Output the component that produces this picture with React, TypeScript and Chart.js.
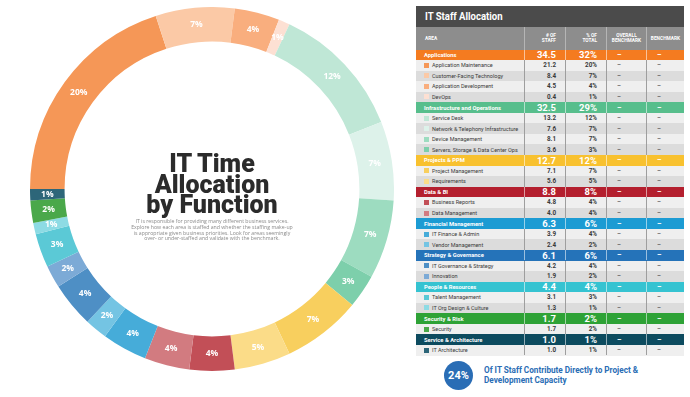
import React, { useEffect, useRef } from 'react';
import { Chart, registerables } from 'chart.js';
Chart.register(...registerables);

// ---- data ----
const areas = [
  'Applications',
  'Infrastructure and Operations',
  'Projects & PPM',
  'Data & BI',
  'Financial Management',
  'Strategy & Governance',
  'People & Resources',
  'Security & Risk',
  'Service & Architecture',
];
const areaStaff = [34.5, 32.5, 12.7, 8.8, 6.3, 6.1, 4.4, 1.7, 1.0];
const areaPct = [32, 29, 12, 8, 6, 6, 4, 2, 1];
const areaColors = ['#f47b20', '#57be8c', '#f8c12f', '#b41f2e', '#1c9bd3', '#2573b9', '#35c3d1', '#2ea236', '#0d4b5f'];

const functions = [
  'Application Maintenance',
  'Customer-Facing Technology',
  'Application Development',
  'DevOps',
  'Service Desk',
  'Network & Telephony Infrastructure',
  'Device Management',
  'Servers, Storage & Data Center Ops',
  'Project Management',
  'Requirements',
  'Business Reports',
  'Data Management',
  'IT Finance & Admin',
  'Vendor Management',
  'IT Governance & Strategy',
  'Innovation',
  'Talent Management',
  'IT Org Design & Culture',
  'Security',
  'IT Architecture',
];
const functionArea = [0, 0, 0, 0, 1, 1, 1, 1, 2, 2, 3, 3, 4, 4, 5, 5, 6, 6, 7, 8];
const functionStaff = [21.2, 8.4, 4.5, 0.4, 13.2, 7.6, 8.1, 3.6, 7.1, 5.6, 4.8, 4.0, 3.9, 2.4, 4.2, 1.9, 3.1, 1.3, 1.7, 1.0];
const functionPct = [20, 7, 4, 1, 12, 7, 7, 3, 7, 5, 4, 4, 4, 2, 4, 2, 3, 1, 2, 1];
const functionColors = [
  '#f59757', '#fbc9a6', '#f9ae7e', '#fde0d3',
  '#bfe7d6', '#ddf2ea', '#9ddcc0', '#7dcfab',
  '#f8cf5e', '#fbdc88',
  '#c24f57', '#d27b80',
  '#46acd9', '#74c4e3',
  '#4e8fc5', '#7caad6',
  '#5bc9d6', '#8ddbe4',
  '#4aa84a',
  '#2d6679',
];
const headers = ['AREA', '# OF\nSTAFF', '% OF\nTOTAL', 'OVERALL\nBENCHMARK', 'BENCHMARK'];

const sliceLabels = {
  id: 'sliceLabels',
  afterDatasetsDraw(chart: any) {
    const ctx = chart.ctx;
    const meta = chart.getDatasetMeta(0);
    ctx.save();
    ctx.fillStyle = '#ffffff';
    ctx.font = "bold 8.5px 'Open Sans', sans-serif";
    ctx.textAlign = 'center';
    ctx.textBaseline = 'middle';
    meta.data.forEach((arc: any, i: number) => {
      const p = arc.tooltipPosition();
      ctx.fillText(functionPct[i] + '%', p.x, p.y);
    });
    ctx.restore();
  },
};

const TF = "'Roboto', sans-serif";
const COLS = [416, 524, 565, 606, 646, 684];
const ROW_H = 10.55;
const TABLE_TOP = 49.5;

function Table() {
  const rows: any[] = [];
  areas.forEach((a, ai) => {
    rows.push({ type: 'area', idx: ai });
    let k = 0;
    functions.forEach((f, fi) => {
      if (functionArea[fi] === ai) {
        rows.push({ type: 'fn', idx: fi, alt: k % 2 === 1 });
        k++;
      }
    });
  });
  return (
    <div>
      <div style={{ position: 'absolute', left: COLS[0], top: 6, width: COLS[5] - COLS[0], height: 21, background: '#4b4b4b' }} />
      <div style={{ position: 'absolute', left: COLS[0] + 9, top: 6, height: 21, color: '#fff', fontFamily: TF, fontWeight: 'bold', fontSize: 11.5, lineHeight: '21px', transform: 'scaleX(0.83)', transformOrigin: 'left center', whiteSpace: 'nowrap' }}>
        IT Staff Allocation
      </div>
      <div style={{ position: 'absolute', left: COLS[0], top: 27, width: COLS[5] - COLS[0], height: TABLE_TOP - 27, background: '#8d8d8d' }} />
      {headers.map((h, i) => (
        <div key={h} style={{ position: 'absolute', left: COLS[i], top: 27, width: COLS[i + 1] - COLS[i], height: TABLE_TOP - 27, display: 'flex', alignItems: 'center', justifyContent: i === 0 ? 'flex-start' : (i < 3 ? 'flex-end' : 'center'), paddingLeft: i === 0 ? 9 : 0, paddingRight: i === 1 || i === 2 ? 9 : 0, boxSizing: 'border-box', borderLeft: i > 0 ? '1px solid #b5b5b5' : 'none', color: '#fff', fontFamily: TF, fontWeight: 'bold', fontSize: 4.8, lineHeight: '5.5px', whiteSpace: 'pre', textAlign: i === 0 ? 'left' : (i < 3 ? 'right' : 'center') }}>
          {h}
        </div>
      ))}
      {rows.map((r, ri) => {
        const top = TABLE_TOP + ri * ROW_H;
        const isArea = r.type === 'area';
        const bg = isArea ? areaColors[r.idx] : (r.alt ? '#dcdcdc' : '#efefef');
        const col = isArea ? '#fff' : '#3a3a3a';
        const sep = isArea ? 'rgba(255,255,255,0.55)' : '#9e9e9e';
        const name = isArea ? areas[r.idx] : functions[r.idx];
        const staff = isArea ? areaStaff[r.idx] : functionStaff[r.idx];
        const pct = isArea ? areaPct[r.idx] : functionPct[r.idx];
        const cells = [name, staff.toFixed(1), pct + '%', '\u2013', '\u2013'];
        return (
          <div key={ri}>
            <div style={{ position: 'absolute', left: COLS[0], top, width: COLS[5] - COLS[0], height: ROW_H + 0.5, background: bg }} />
            {cells.map((c, ci) => (
              <div key={ci} style={{ position: 'absolute', left: COLS[ci], top, width: COLS[ci + 1] - COLS[ci], height: ROW_H, display: 'flex', alignItems: 'center', justifyContent: ci === 1 || ci === 2 ? 'flex-end' : 'flex-start', paddingLeft: ci === 0 ? 8 : (ci > 2 ? 10 : 0), paddingRight: ci === 1 || ci === 2 ? 9 : 0, boxSizing: 'border-box', borderLeft: ci > 0 ? '1px solid ' + sep : 'none', color: col, fontFamily: TF, fontWeight: isArea || ci === 1 || ci === 2 ? 'bold' : 'normal', fontSize: isArea ? (ci === 0 ? 5.8 : (ci < 3 ? 9.5 : 7)) : (ci === 0 ? 5.5 : 6.3), whiteSpace: 'nowrap', overflow: 'hidden' }}>
                {ci === 0 && !isArea ? (
                  <span style={{ display: 'inline-block', flexShrink: 0, width: 5, height: 5, background: functionColors[r.idx], marginRight: 3 }} />
                ) : null}
                {c}
              </div>
            ))}
          </div>
        );
      })}
    </div>
  );
}

export default function App() {
  const ref = useRef<HTMLCanvasElement>(null);
  useEffect(() => {
    const chart = new Chart(ref.current as HTMLCanvasElement, {
      type: 'doughnut',
      data: {
        labels: functions,
        datasets: [{ data: functionPct, backgroundColor: functionColors, borderWidth: 0, hoverOffset: 0 }],
      },
      options: {
        responsive: false,
        animation: false,
        cutout: '81%',
        rotation: -90,
        layout: { padding: 0 },
        plugins: { legend: { display: false }, tooltip: { enabled: false } },
      },
      plugins: [sliceLabels],
    } as any);
    return () => chart.destroy();
  }, []);

  return (
    <div style={{ position: 'absolute', left: 0, top: 0, width: 690, height: 397, background: '#fff', overflow: 'hidden' }}>
      <canvas ref={ref} width={364} height={364} style={{ position: 'absolute', left: 30, top: 7, width: 364, height: 364 }} />
      <div style={{ position: 'absolute', left: 92, top: 154, width: 240, textAlign: 'center', fontFamily: "'Roboto', 'Liberation Sans', sans-serif", fontWeight: 900, fontSize: 25, lineHeight: '20.5px', color: '#2b2b2b', letterSpacing: 0 }}>
        IT Time<br />Allocation<br />by Function
      </div>
      <div style={{ position: 'absolute', left: 112, top: 219, width: 200, textAlign: 'center', fontFamily: "'Open Sans', sans-serif", fontSize: 5.2, lineHeight: '5.8px', color: '#8a8a8a', whiteSpace: 'pre' }}>
        {'IT is responsible for providing many different business services.\nExplore how each area is staffed and whether the staffing make-up\nis appropriate given business priorities. Look for areas seemingly\nover- or under-staffed and validate with the benchmark.'}
      </div>
      <Table />
      <div style={{ position: 'absolute', left: 444, top: 361, width: 29, height: 29, borderRadius: '50%', background: '#2a6db5', color: '#fff', fontFamily: TF, fontWeight: 'bold', fontSize: 11, lineHeight: '29px', textAlign: 'center' }}>
        24%
      </div>
      <div style={{ position: 'absolute', left: 484, top: 366, width: 200, fontFamily: TF, fontWeight: 'bold', fontSize: 8.2, lineHeight: '9.5px', color: '#2a6db5', whiteSpace: 'nowrap' }}>
        Of IT Staff Contribute Directly to Project &amp;<br />Development Capacity
      </div>
    </div>
  );
}
